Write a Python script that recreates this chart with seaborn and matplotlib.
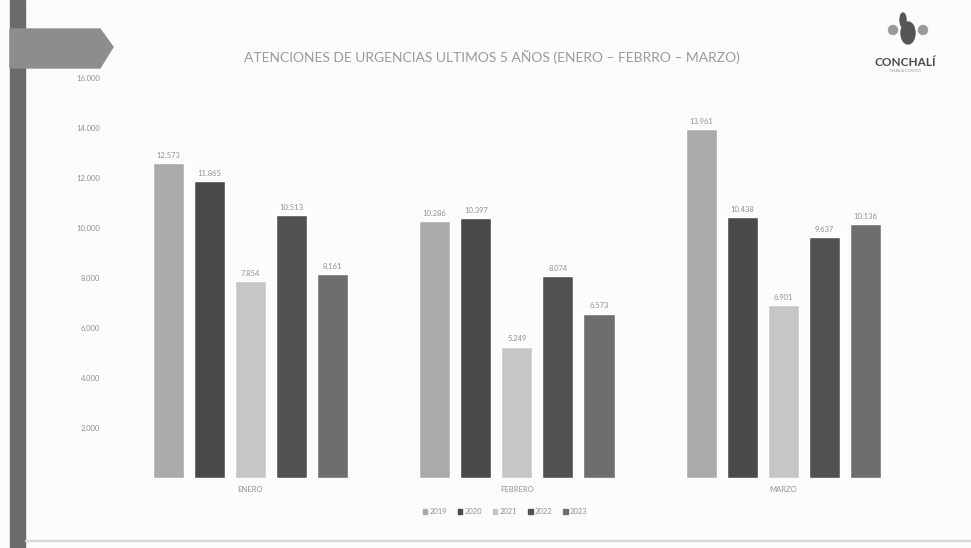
import numpy as np
import pandas as pd
import matplotlib
matplotlib.use("Agg")
import matplotlib.pyplot as plt
from matplotlib.patches import Polygon, Rectangle, Ellipse
import seaborn as sns

months = ["ENERO", "FEBRERO", "MARZO"]
years = ["2019", "2020", "2021", "2022", "2023"]
v2019 = [12573, 10286, 13961]
v2020 = [11865, 10397, 10438]
v2021 = [7854, 5249, 6901]
v2022 = [10513, 8074, 9637]
v2023 = [8161, 6573, 10136]
yticks = [2000, 4000, 6000, 8000, 10000, 12000, 14000, 16000]
title = "ATENCIONES DE URGENCIAS ULTIMOS 5 AÑOS (ENERO – FEBRRO – MARZO)"

series = [v2019, v2020, v2021, v2022, v2023]
rows = []
for y, vals in zip(years, series):
    for m, v in zip(months, vals):
        rows.append({"Mes": m, "Año": y, "Atenciones": v})
df = pd.DataFrame(rows)

sns.set_style("white")
plt.rcParams['font.family'] = ['Lato', 'DejaVu Sans']

palette = ["#aaaaaa", "#4a4a4a", "#c6c6c6", "#515151", "#6e6e6e"]
txt = "#929292"

fig = plt.figure(figsize=(9.71, 5.48), dpi=100)
fig.patch.set_facecolor("#fcfcfc")
ax = fig.add_axes([0.1205, 0.128, 0.8235, 0.730])
ax.set_facecolor("none")

sns.barplot(data=df, x="Mes", y="Atenciones", hue="Año", order=months,
            hue_order=years, palette=palette, width=0.77, gap=0.24,
            saturation=1, ax=ax, legend=False)

for cont in ax.containers:
    labels = [f"{int(v):,}".replace(",", ".") for v in cont.datavalues]
    ax.bar_label(cont, labels=labels, padding=3, fontsize=5.5, color=txt)

ax.set_ylim(0, 16000)
ax.set_xlim(-0.5, 2.5)
ax.set_yticks(yticks)
ax.set_yticklabels([f"{t:,}".replace(",", ".") for t in yticks])
ax.tick_params(axis="y", labelsize=5.5, labelcolor=txt, length=0, pad=12)
ax.tick_params(axis="x", labelsize=5.5, labelcolor=txt, length=0, pad=6)
ax.set_xlabel("")
ax.set_ylabel("")
for s in ax.spines.values():
    s.set_visible(False)

# legend
handles = [Rectangle((0, 0), 1, 1, color=c) for c in palette]
fig.legend(handles, years, loc="center", bbox_to_anchor=(505 / 971, 1 - 512 / 548),
           ncol=5, frameon=False, fontsize=5.5, labelcolor=txt,
           handlelength=0.6, handleheight=0.6, handletextpad=0.3, columnspacing=1.4)

fig.text(492 / 971, 1 - 57 / 548, title, ha="center", va="center",
         fontsize=10, color="#9a9a9a")

# left signpost decoration
fig.patches.append(Rectangle((10 / 971, 0), 15 / 971, 1, transform=fig.transFigure,
                             color="#6b6b6b", zorder=0))
fig.patches.append(Polygon([(10 / 971, 1 - 29 / 548), (100 / 971, 1 - 29 / 548),
                            (113 / 971, 1 - 47 / 548), (100 / 971, 1 - 68 / 548),
                            (10 / 971, 1 - 68 / 548)], closed=True,
                           transform=fig.transFigure, color="#8d8d8d", zorder=0))
# thin bottom line
fig.patches.append(Rectangle((25 / 971, 1 - 541 / 548), 946 / 971, 1 / 548,
                             transform=fig.transFigure, color="#d8d8d8", zorder=0))

# logo
for cx, cy, w, h, c in [(893, 30, 9, 9, "#9a9a9a"), (923, 30, 9, 9, "#9a9a9a"),
                        (908, 33, 14, 22, "#555555"), (903, 20, 6, 14, "#555555")]:
    fig.patches.append(Ellipse((cx / 971, 1 - cy / 548), w / 971, h / 548,
                               transform=fig.transFigure, color=c, zorder=0))
fig.text(905 / 971, 1 - 62 / 548, "CONCHALÍ", ha="center", va="center",
         fontsize=8.5, fontweight="bold", color="#4a4a4a")
fig.text(905 / 971, 1 - 71 / 548, "TRABAJA CONTIGO", ha="center", va="center",
         fontsize=2.5, color="#999999")

fig.savefig("out.png", dpi=100, facecolor=fig.get_facecolor())
